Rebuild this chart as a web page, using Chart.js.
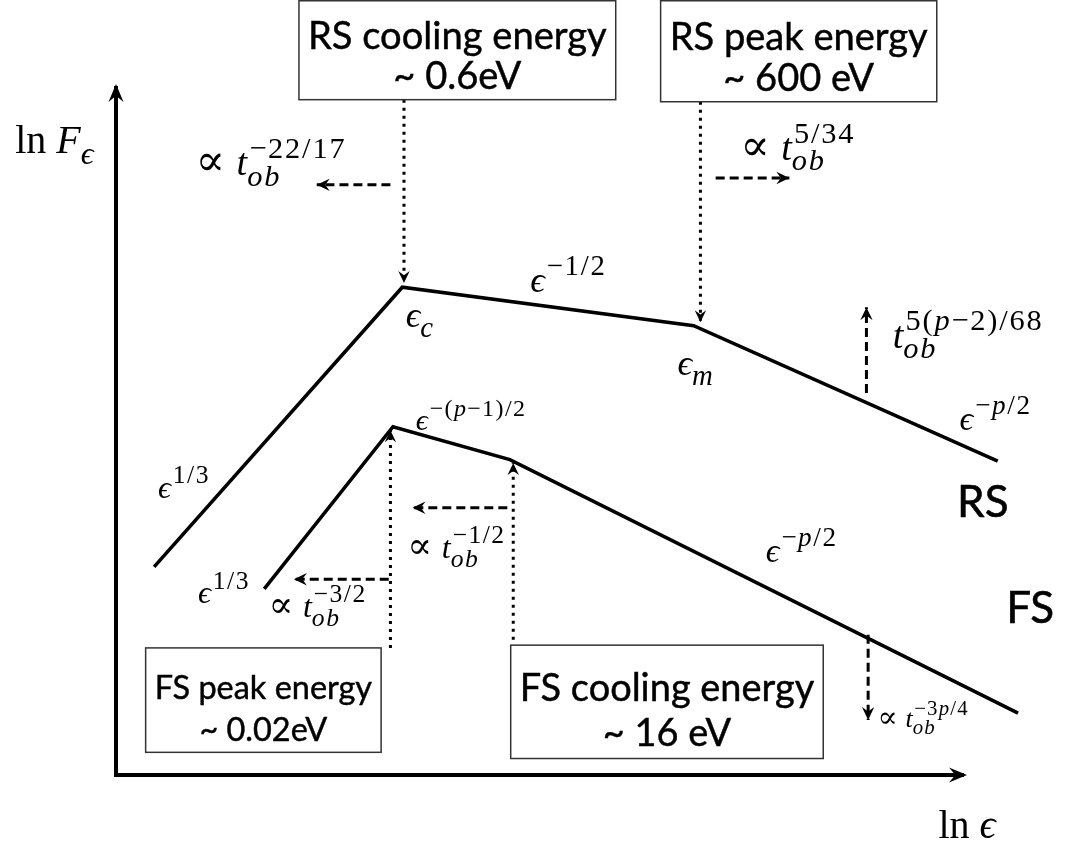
<!DOCTYPE html>
<html>
<head>
<meta charset="utf-8">
<script src="https://cdn.jsdelivr.net/npm/chart.js@4.4.0/dist/chart.umd.min.js"></script>
<style>
  html, body { margin: 0; padding: 0; background: #fff; }
  #wrap { width: 1073px; height: 850px; position: relative; }
</style>
</head>
<body>
<div id="wrap"><canvas id="spectrumChart"></canvas></div>
<script>
// Broken power-law spectra, arbitrary log units (0-100 along each axis)
const rsLnE = [4.5, 33.8, 68.2, 104.1];
const rsLnF = [30.3, 71.0, 65.4, 45.7];
const fsLnE = [17.5, 32.7, 46.5, 106.5];
const fsLnF = [27.1, 50.7, 45.9, 9.0];

// Dotted guides from the boxes down/up to the break energies
const guideX    = [34.0, 69.0, 32.4, 46.9];
const guideFrom = [98.3, 98.0, 18.5, 19.7];
const guideTo   = [71.6, 65.9, 50.2, 45.4];

// Dashed arrows: how the breaks / peaks move with time
const shiftFromX = [32.4, 70.8, 88.6, 46.2, 32.2, 88.8];
const shiftFromY = [85.9, 86.9, 55.6, 38.9, 28.5, 20.4];
const shiftToX   = [23.7, 79.5, 88.6, 35.0, 21.0, 88.8];
const shiftToY   = [85.9, 86.9, 68.1, 38.9, 28.5, 8.0];

// Boxes with break energies
const boxText = [
  ['RS cooling energy', '~ 0.6eV'],
  ['RS peak energy', '~ 600 eV'],
  ['FS peak energy', '~ 0.02eV'],
  ['FS cooling energy', '~ 16 eV']
];
const boxLeft   = [21.6, 64.3, 3.5, 46.6];
const boxRight  = [59.0, 96.9, 31.3, 83.5];
const boxTop    = [112.7, 112.7, 18.5, 18.9];
const boxBottom = [98.3, 98.0, 3.3, 2.4];

// Math labels: [text, role]; role b = base, sup, sub, rm = upright base
const labelMath = [
  [['ln ', 'rm'], ['F', 'b'], ['ϵ', 'sub']],
  [['ln ', 'rm'], ['ϵ', 'b']],
  [['∝ ', 'rm'], ['t', 'b'], ['−22/17', 'sup'], ['ob', 'sub']],
  [['∝ ', 'rm'], ['t', 'b'], ['5/34', 'sup'], ['ob', 'sub']],
  [['ϵ', 'b'], ['−1/2', 'sup']],
  [['ϵ', 'b'], ['c', 'sub']],
  [['ϵ', 'b'], ['m', 'sub']],
  [['t', 'b'], ['5(p−2)/68', 'sup'], ['ob', 'sub']],
  [['ϵ', 'b'], ['−p/2', 'sup']],
  [['ϵ', 'b'], ['1/3', 'sup']],
  [['ϵ', 'b'], ['1/3', 'sup']],
  [['ϵ', 'b'], ['−(p−1)/2', 'sup']],
  [['∝ ', 'rm'], ['t', 'b'], ['−1/2', 'sup'], ['ob', 'sub']],
  [['∝ ', 'rm'], ['t', 'b'], ['−3/2', 'sup'], ['ob', 'sub']],
  [['ϵ', 'b'], ['−p/2', 'sup']],
  [['∝ ', 'rm'], ['t', 'b'], ['−3p/4', 'sup'], ['ob', 'sub']]
];
const labelX = [-11.9, 97.1, 9.4, 73.7, 48.9, 34.2, 66.3, 91.7, 99.6, 4.95, 9.67, 35.4, 34.4, 18.0, 76.7, 89.9];
const labelY = [90.5, -9.2, 87.3, 89.5, 70.3, 65.2, 58.2, 62.2, 50.2, 40.3, 25.0, 50.2, 31.6, 23.0, 31.0, 7.0];
const labelSize = [40, 40, 38, 38, 36, 36, 36, 38, 34, 32, 32, 30, 32, 32, 34, 26];

const curveNames = ['RS', 'FS'];
const curveNameX = [99.3, 105.1];
const curveNameY = [37.6, 22.1];

const SERIF = '"Liberation Serif", "DejaVu Serif", serif';
const SANS = 'Lato, "Open Sans", sans-serif';

function pts(xs, ys) {
    return xs.map((v, i) => ({x: v, y: ys[i]}));
}

function arrowHead(ctx, x, y, ang, len, wid) {
    ctx.save();
    ctx.translate(x, y);
    ctx.rotate(ang);
    ctx.beginPath();
    ctx.moveTo(0, 0);
    ctx.lineTo(-len, -wid / 2);
    ctx.lineTo(-len * 0.65, 0);
    ctx.lineTo(-len, wid / 2);
    ctx.closePath();
    ctx.fillStyle = '#000';
    ctx.fill();
    ctx.restore();
}

function drawRun(ctx, text, x, y, size, upright, spacing) {
    let cx = x;
    for (const ch of text) {
        if (ch === '∝') {
            ctx.font = (size * 1.15) + 'px "DejaVu Serif", serif';
            ctx.fillText(ch, cx, y);
            cx += ctx.measureText(ch).width + size * 0.05;
            continue;
        }
        const it = !upright && /[a-zA-Zϵ]/.test(ch);
        ctx.font = (it ? 'italic ' : '') + size + 'px ' + SERIF;
        ctx.fillText(ch, cx, y);
        cx += ctx.measureText(ch).width + (ch === '−' ? size * 0.05 : spacing);
    }
    return cx - x;
}

function drawMath(ctx, x, y, size, segs) {
    let cx = x, start = null, end = x;
    for (const [text, role] of segs) {
        if (role === 'sup' || role === 'sub') {
            if (start === null) start = cx;
            const s = size * 0.8;
            const dy = role === 'sup' ? -size * 0.46 : size * 0.27;
            const w = drawRun(ctx, text, start + (role === 'sup' ? size * 0.06 : 0), y + dy, s, false, s * 0.06);
            end = Math.max(end, start + w);
        } else {
            if (start !== null) { cx = end; start = null; }
            cx += drawRun(ctx, text, cx, y, size, role === 'rm', 0);
        }
    }
}

function sansText(ctx, s, x, y) {
    ctx.fillText(s, x, y);
    ctx.strokeText(s, x, y);
}

const schematic = {
    id: 'schematic',
    afterDatasetsDraw(chart) {
        const {ctx, chartArea, scales: {x, y}} = chart;
        ctx.save();

        // axis arrowheads
        arrowHead(ctx, chartArea.right + 4, chartArea.bottom, 0, 18, 15);
        arrowHead(ctx, chartArea.left, chartArea.top - 4, -Math.PI / 2, 18, 15);

        // arrowheads on guides and time-shift arrows
        chart.data.datasets.forEach(ds => {
            if (!ds.head) return;
            const d = ds.data;
            const a = d[d.length - 2], b = d[d.length - 1];
            const bx = x.getPixelForValue(b.x), by = y.getPixelForValue(b.y);
            const ang = Math.atan2(by - y.getPixelForValue(a.y), bx - x.getPixelForValue(a.x));
            arrowHead(ctx, bx, by, ang, ds.head, ds.head * 0.95);
        });

        // boxes
        boxText.forEach((lines, i) => {
            const l = x.getPixelForValue(boxLeft[i]), r = x.getPixelForValue(boxRight[i]);
            const t = y.getPixelForValue(boxTop[i]), b = y.getPixelForValue(boxBottom[i]);
            const w = r - l, h = b - t;
            ctx.fillStyle = '#fff';
            ctx.fillRect(l, t, w, h);
            ctx.strokeStyle = '#333';
            ctx.lineWidth = 1.5;
            ctx.strokeRect(l, t, w, h);
            let fs = 40;
            ctx.font = fs + 'px ' + SANS;
            const mw = Math.max(...lines.map(s => ctx.measureText(s).width));
            if (mw > w - 18) fs = fs * (w - 18) / mw;
            ctx.font = fs + 'px ' + SANS;
            ctx.fillStyle = '#000';
            ctx.strokeStyle = '#000';
            ctx.lineWidth = 0.45;
            ctx.textAlign = 'center';
            ctx.textBaseline = 'alphabetic';
            sansText(ctx, lines[0], (l + r) / 2, t + h * 0.49);
            sansText(ctx, lines[1], (l + r) / 2, t + h * 0.89);
        });

        // math labels
        ctx.textAlign = 'left';
        ctx.fillStyle = '#000';
        labelMath.forEach((segs, i) => {
            drawMath(ctx, x.getPixelForValue(labelX[i]), y.getPixelForValue(labelY[i]), labelSize[i], segs);
        });

        // curve names
        ctx.font = '44px ' + SANS;
        ctx.lineWidth = 0.6;
        curveNames.forEach((n, i) => {
            sansText(ctx, n, x.getPixelForValue(curveNameX[i]), y.getPixelForValue(curveNameY[i]));
        });
        ctx.restore();
    }
};

const datasets = [
    {data: pts(rsLnE, rsLnF), borderWidth: 3.5},
    {data: pts(fsLnE, fsLnF), borderWidth: 3.5}
];
guideX.forEach((gx, i) => {
    datasets.push({
        data: [{x: gx, y: guideFrom[i]}, {x: gx, y: guideTo[i]}],
        borderWidth: 3, borderDash: [3, 5], head: 12
    });
});
shiftFromX.forEach((fx, i) => {
    datasets.push({
        data: [{x: fx, y: shiftFromY[i]}, {x: shiftToX[i], y: shiftToY[i]}],
        borderWidth: 3, borderDash: [9, 5], head: 13
    });
});
datasets.forEach(ds => {
    ds.showLine = true;
    ds.pointRadius = 0;
    ds.borderColor = '#000';
    ds.clip = false;
    ds.tension = 0;
});

new Chart(document.getElementById('spectrumChart'), {
    type: 'scatter',
    data: {datasets: datasets},
    options: {
        responsive: true,
        maintainAspectRatio: false,
        animation: false,
        layout: {padding: {left: 108, right: 110, top: 88, bottom: 67}},
        plugins: {
            legend: {display: false},
            tooltip: {enabled: false}
        },
        scales: {
            x: {
                min: 0, max: 100,
                grid: {display: false},
                ticks: {display: false},
                border: {display: true, color: '#000', width: 4}
            },
            y: {
                min: 0, max: 100,
                grid: {display: false},
                ticks: {display: false},
                border: {display: true, color: '#000', width: 4}
            }
        }
    },
    plugins: [schematic]
});
</script>
</body>
</html>
